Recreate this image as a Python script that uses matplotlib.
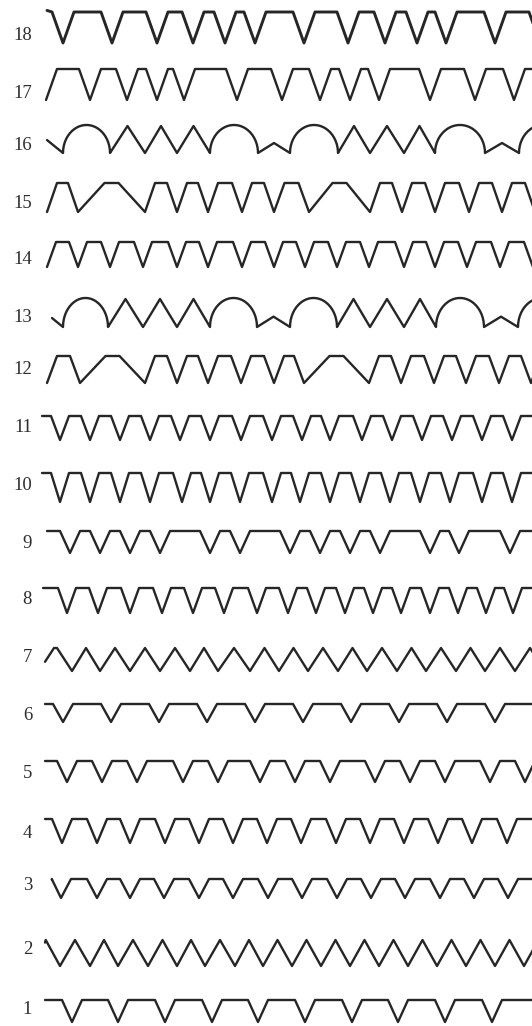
import numpy as np
import matplotlib.pyplot as plt

# row numbers, top to bottom
rows = [18, 17, 16, 15, 14, 13, 12, 11, 10, 9, 8, 7, 6, 5, 4, 3, 2, 1]

# trapezoid / zigzag rows: x of each valley (pixel units along the strip)
valleys = {
    18: [63, 112, 157, 193, 225, 255, 304, 348, 385, 417, 446, 495, 540],
    17: [90, 127, 157, 184, 237, 282, 320, 350, 379, 430, 475, 514],
    15: [78, 145, 177, 208, 242, 274, 309, 370, 402, 435, 469, 502, 535],
    14: [78, 110, 143, 177, 208, 242, 274, 305, 337, 369, 404, 435, 467, 500, 533],
    12: [80, 145, 177, 208, 241, 274, 304, 369, 401, 434, 466, 499, 531],
    11: [60, 90, 120, 150, 180, 210, 241, 272, 302, 330, 362, 392, 422, 452, 482, 512],
    10: [60, 90, 120, 150, 182, 210, 240, 272, 300, 330, 360, 390, 420, 450, 482, 512],
    9: [70, 100, 130, 160, 210, 240, 290, 320, 350, 380, 430, 459, 510],
    8: [67, 98, 130, 162, 193, 224, 257, 288, 316, 345, 373, 401, 430, 458, 486, 513],
    7: [72, 100, 130, 160, 190, 218, 250, 279, 308, 338, 367, 397, 426, 456, 485, 515, 545],
    6: [63, 111, 159, 207, 255, 303, 351, 399, 447, 495],
    5: [67, 102, 137, 183, 218, 260, 295, 330, 375, 410, 445, 490, 525],
    4: [62, 97, 130, 165, 199, 233, 267, 301, 336, 370, 404, 438, 472, 507],
    3: [61, 97, 130, 164, 199, 233, 268, 302, 337, 371, 405, 440, 474, 508],
    2: [60, 90, 118, 148, 177, 205, 235, 263, 292, 321, 350, 379, 408, 437, 466, 495, 524, 553],
    1: [72, 118, 165, 212, 258, 305, 352, 398, 445, 492],
}

# arch rows: stroke kinds and their widths
arch_kinds = "dAZZZAzAZZZAzA"
arch_widths = {
    16: [16, 47, 35, 32, 33, 48, 32, 48, 32, 34, 31, 50, 34, 48],
    13: [11, 45, 35, 34, 33, 47, 33, 47, 33, 34, 32, 48, 34, 48],
}

# layout: top / bottom level of each strip, start x, start height, slope, label y
top = {18: 12, 17: 69, 16: 126, 15: 183, 14: 242, 13: 299, 12: 356, 11: 416, 10: 473,
       9: 531, 8: 588, 7: 648, 6: 704, 5: 761, 4: 819, 3: 879, 2: 940, 1: 1000}
bot = {18: 43, 17: 100, 16: 153, 15: 212, 14: 267, 13: 327, 12: 383, 11: 440, 10: 502,
       9: 553, 8: 613, 7: 671, 6: 722, 5: 782, 4: 843, 3: 898, 2: 966, 1: 1022}
start = {18: (47, 1.05), 17: (46, 0), 16: (47, 0.48), 15: (47, 0), 14: (47, 0), 13: (52, 0.32),
         12: (47, 0), 11: (42, 1), 10: (42, 1), 9: (47, 1), 8: (43, 1), 7: (45, 0.4),
         6: (45, 1), 5: (45, 1), 4: (45, 1), 3: (52, 0.95), 2: (45, 0.9), 1: (45, 1)}
slope = {18: 11, 17: 11, 15: 10, 14: 9, 12: 10, 11: 9, 10: 9, 9: 10, 8: 9, 7: 15,
         6: 10, 5: 10, 4: 10, 3: 10, 2: 15, 1: 10}
pmax = {15: 14, 12: 14}
label_y = {18: 35, 17: 93, 16: 145, 15: 203, 14: 260, 13: 318, 12: 369, 11: 428, 10: 485,
           9: 543, 8: 600, 7: 658, 6: 715, 5: 773, 4: 833, 3: 886, 2: 950, 1: 1010}

INK = '#262626'


def trapezoid(r):
    vs = valleys[r]
    t, b, s = top[r], bot[r], slope[r]
    amp = b - t
    x0, f0 = start[r]
    xs, ys = [x0], [b - f0 * amp]
    v0 = vs[0]
    if f0 < 1:
        xr = x0 + s * (1 - f0)
        if v0 - s - xr > 2:
            xs += [xr, v0 - s]
            ys += [t, t]
        else:
            xs.append((xr + v0 - s) / 2)
            ys.append(t)
    elif v0 - s > x0:
        xs.append(v0 - s)
        ys.append(t)
    xs.append(v0)
    ys.append(b)
    for a, c in zip(vs[:-1], vs[1:]):
        g = c - a
        p = g - 2 * s
        if r in pmax:
            p = min(p, pmax[r])
        if p <= 2:
            xs.append(a + g / 2)
            ys.append(t)
        else:
            e = (g - p) / 2
            xs += [a + e, c - e]
            ys += [t, t]
        xs.append(c)
        ys.append(b)
    if vs[-1] < 532:
        xs += [vs[-1] + s, 545]
        ys += [t, t]
    return xs, ys


def arches(r):
    t, b = top[r], bot[r]
    amp = b - t
    x, f0 = start[r]
    xs, ys = [x], [b - f0 * amp]
    for k, w in zip(arch_kinds, arch_widths[r]):
        if k == 'd':
            xs.append(x + w)
            ys.append(b)
        elif k == 'A':
            a = np.linspace(np.pi, 0, 50)
            xs += list(x + w / 2 + w / 2 * np.cos(a))
            ys += list(b - (amp + 1) * np.sin(a))
        elif k == 'Z':
            xs += [x + w / 2, x + w]
            ys += [t, b]
        elif k == 'z':
            xs += [x + w / 2, x + w]
            ys += [b - 0.37 * amp, b]
        x += w
    return xs, ys


fig = plt.figure(figsize=(5.32, 10.26), dpi=100)
ax = fig.add_axes([0, 0, 1, 1])
ax.set_xlim(0, 532)
ax.set_ylim(1026, 0)
ax.axis('off')

for r in rows:
    if r in arch_widths:
        xs, ys = arches(r)
    else:
        xs, ys = trapezoid(r)
    lw = 2.1 if r == 18 else 1.7
    ax.plot(xs, ys, color=INK, lw=lw, solid_joinstyle='round', solid_capstyle='round')
    ax.text(32, label_y[r], str(r), ha='right', va='center', fontsize=13.5,
            family='Liberation Serif', color='#2e2e2e')

fig.savefig('out.png', dpi=100)
